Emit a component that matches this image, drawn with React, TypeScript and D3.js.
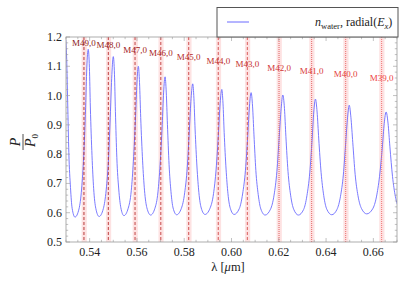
import React from "react";
import * as d3 from "d3";

// Transmitted power P/P0 vs wavelength
const curve: [number, number][] = [
  [0.5299, 1.19], [0.5303, 1.123], [0.5307, 0.981], [0.5312, 0.805], [0.5319, 0.686], [0.5326, 0.615], [0.5338, 0.585],
  [0.5355, 0.613], [0.5366, 0.681], [0.5375, 0.794], [0.5383, 0.96], [0.5388, 1.094], [0.5394, 1.158],
  [0.5399, 1.095], [0.5403, 0.961], [0.541, 0.795], [0.5417, 0.682], [0.5426, 0.615], [0.544, 0.587],
  [0.5458, 0.614], [0.547, 0.678], [0.548, 0.786], [0.5488, 0.945], [0.5494, 1.072], [0.55, 1.133],
  [0.5505, 1.073], [0.5509, 0.946], [0.5515, 0.788], [0.5523, 0.681], [0.5532, 0.617], [0.5545, 0.59],
  [0.5563, 0.615], [0.5576, 0.675], [0.5585, 0.776], [0.5594, 0.924], [0.56, 1.043], [0.5606, 1.1],
  [0.5611, 1.044], [0.5616, 0.925], [0.5624, 0.777], [0.5632, 0.677], [0.5642, 0.617], [0.5658, 0.592],
  [0.5676, 0.615], [0.5689, 0.671], [0.5698, 0.764], [0.5707, 0.901], [0.5713, 1.012], [0.5719, 1.064],
  [0.5724, 1.012], [0.5729, 0.902], [0.5736, 0.764], [0.5744, 0.672], [0.5753, 0.616], [0.5768, 0.593],
  [0.5788, 0.615], [0.5802, 0.668], [0.5813, 0.756], [0.5822, 0.886], [0.5829, 0.99], [0.5836, 1.04],
  [0.5841, 0.991], [0.5846, 0.886], [0.5854, 0.756], [0.5862, 0.669], [0.5872, 0.616], [0.5888, 0.594],
  [0.5909, 0.615], [0.5924, 0.665], [0.5935, 0.749], [0.5945, 0.874], [0.5952, 0.974], [0.5959, 1.021],
  [0.5964, 0.974], [0.5969, 0.874], [0.5977, 0.749], [0.5985, 0.665], [0.5995, 0.615], [0.6011, 0.594],
  [0.6033, 0.614], [0.6047, 0.664], [0.6059, 0.745], [0.6069, 0.867], [0.6076, 0.964], [0.6083, 1.01],
  [0.6089, 0.964], [0.6095, 0.866], [0.6103, 0.744], [0.6113, 0.662], [0.6124, 0.613], [0.6142, 0.592],
  [0.6165, 0.612], [0.618, 0.66], [0.6192, 0.741], [0.6202, 0.861], [0.621, 0.956], [0.6217, 1.002],
  [0.6224, 0.956], [0.623, 0.861], [0.6239, 0.741], [0.625, 0.66], [0.6263, 0.612], [0.6283, 0.592],
  [0.6305, 0.611], [0.6319, 0.658], [0.6331, 0.736], [0.6341, 0.851], [0.6348, 0.944], [0.6355, 0.988],
  [0.6362, 0.944], [0.6369, 0.852], [0.6379, 0.737], [0.639, 0.659], [0.6403, 0.612], [0.6424, 0.593],
  [0.6446, 0.611], [0.6461, 0.656], [0.6473, 0.729], [0.6483, 0.838], [0.6491, 0.926], [0.6498, 0.967],
  [0.6505, 0.926], [0.6513, 0.839], [0.6523, 0.731], [0.6535, 0.658], [0.655, 0.614], [0.6572, 0.596],
  [0.6597, 0.613], [0.6613, 0.654], [0.6626, 0.723], [0.6638, 0.824], [0.6646, 0.905], [0.6654, 0.944],
  [0.6662, 0.906], [0.667, 0.825], [0.6681, 0.724], [0.6693, 0.656], [0.6709, 0.615],
];

const modeLabels = ["M49,0", "M48,0", "M47,0", "M46,0", "M45,0", "M44,0", "M43,0", "M42,0", "M41,0", "M40,0", "M39,0"];
const modeLambda = [0.5376, 0.5479, 0.5592, 0.5701, 0.5819, 0.5944, 0.6067, 0.6201, 0.6339, 0.6483, 0.6635];
const modeLabelLevel = [1.18, 1.173, 1.156, 1.144, 1.133, 1.118, 1.108, 1.093, 1.084, 1.073, 1.059];

const xTicks = [0.54, 0.56, 0.58, 0.6, 0.62, 0.64, 0.66];
const yTicks = [0.5, 0.6, 0.7, 0.8, 0.9, 1.0, 1.1, 1.2];

const SERIF = "Liberation Serif, DejaVu Serif, serif";

export default function App() {
  const W = 407, H = 285;
  const left = 66, right = 397, top = 37, bottom = 242;
  const x = d3.scaleLinear().domain([0.53, 0.67]).range([left, right]);
  const y = d3.scaleLinear().domain([0.5, 1.2]).range([bottom, top]);
  const line = d3
    .line<[number, number]>()
    .x((d) => x(d[0]))
    .y((d) => y(d[1]))
    .curve(d3.curveMonotoneX);

  const xMinor = d3.range(0, 29).map((i) => 0.53 + i * 0.005);
  const yMinor = d3.range(0, 36).map((i) => 0.5 + i * 0.02);
  const labelColor = d3.interpolateRgb("#8b1a1a", "#ee4444");
  const lineColor = d3.interpolateRgb("#b02828", "#f06a6a");
  const tickCol = "#999";

  return (
    <svg width={W} height={H} style={{ position: "absolute", left: 0, top: 0, fontFamily: SERIF }}>
      <rect x={0} y={0} width={W} height={H} fill="white" />
      <defs>
        <clipPath id="plotclip">
          <rect x={left} y={top} width={right - left} height={bottom - top} />
        </clipPath>
      </defs>
      <g clipPath="url(#plotclip)">
        {modeLambda.map((l, i) => (
          <rect key={"b" + i} x={x(l - 0.001)} y={top} width={x(l + 0.0012) - x(l - 0.001)} height={bottom - top}
            fill="#fcd8d8" opacity={0.75} />
        ))}
        <path d={line(curve) || ""} fill="none" stroke="#6b6bff" strokeWidth={0.9} />
        {modeLambda.map((l, i) => (
          <line key={"l" + i} x1={x(l)} x2={x(l)} y1={top} y2={bottom}
            stroke={lineColor(i / 10)} strokeWidth={0.9} strokeDasharray={i < 7 ? "3,2" : "1,1"} />
        ))}
      </g>
      <rect x={left} y={top} width={right - left} height={bottom - top} fill="none" stroke={tickCol} strokeWidth={0.8} />
      {xMinor.map((v, i) => {
        const major = i % 4 === 2;
        const len = major ? 4 : 2.2;
        return (
          <g key={"xm" + i}>
            <line x1={x(v)} x2={x(v)} y1={bottom} y2={bottom - len} stroke={tickCol} strokeWidth={0.6} />
            <line x1={x(v)} x2={x(v)} y1={top} y2={top + len} stroke={tickCol} strokeWidth={0.6} />
          </g>
        );
      })}
      {yMinor.map((v, i) => {
        const major = i % 5 === 0;
        const len = major ? 4 : 2.2;
        return (
          <g key={"ym" + i}>
            <line x1={left} x2={left + len} y1={y(v)} y2={y(v)} stroke={tickCol} strokeWidth={0.6} />
            <line x1={right} x2={right - len} y1={y(v)} y2={y(v)} stroke={tickCol} strokeWidth={0.6} />
          </g>
        );
      })}
      {xTicks.map((v) => (
        <text key={"xt" + v} x={x(v)} y={256} textAnchor="middle" fontSize={12} fill="#222">
          {v.toFixed(2)}
        </text>
      ))}
      {yTicks.map((v) => (
        <text key={"yt" + v} x={62} y={y(v) + 4} textAnchor="end" fontSize={12} fill="#222">
          {v.toFixed(1)}
        </text>
      ))}
      {modeLambda.map((l, i) => (
        <text key={"t" + i} x={x(l)} y={y(modeLabelLevel[i]) + 3} textAnchor="middle" fontSize={9}
          fill={labelColor(i / 10)}>
          {modeLabels[i]}
        </text>
      ))}
      <text x={228} y={271} textAnchor="middle" fontSize={12.5} fill="#222">
        λ [<tspan fontStyle="italic">μ</tspan>m]
      </text>
      <g transform="translate(23,142) rotate(-90)">
        <text x={0} y={-3} textAnchor="middle" fontSize={14} fontStyle="italic" fill="#222">P</text>
        <line x1={-8} x2={8} y1={0} y2={0} stroke="#222" strokeWidth={0.8} />
        <text x={1.5} y={12} textAnchor="middle" fontSize={14} fill="#222">
          <tspan fontStyle="italic">P</tspan>
          <tspan fontSize={9} dy={3}>0</tspan>
        </text>
      </g>
      <rect x={217} y={7.5} width={181} height={29.5} fill="white" stroke="#555" strokeWidth={1} />
      <line x1={227} x2={249} y1={22} y2={22} stroke="#6b6bff" strokeWidth={1} />
      <text x={315} y={26} fontSize={12} fill="#222">
        <tspan fontStyle="italic">n</tspan>
        <tspan fontSize={8.5} dy={2.5}>water</tspan>
        <tspan dy={-2.5}>, radial(</tspan>
        <tspan fontStyle="italic">E</tspan>
        <tspan fontSize={8.5} dy={2.5} fontStyle="italic">x</tspan>
        <tspan dy={-2.5}>)</tspan>
      </text>
    </svg>
  );
}
